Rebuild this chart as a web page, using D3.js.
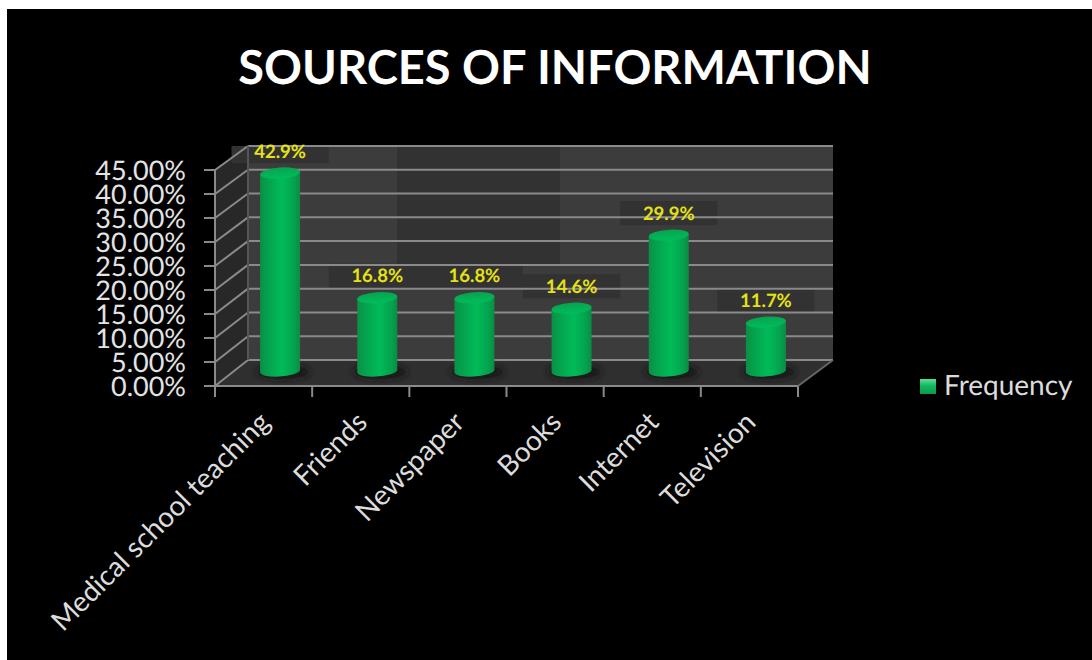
<!DOCTYPE html>
<html>
<head>
<meta charset="utf-8">
<script src="https://cdn.jsdelivr.net/npm/d3@7"></script>
<style>
html,body{margin:0;padding:0;background:#fff;overflow:hidden}
svg{display:block}
text{font-family:Lato,"Open Sans",sans-serif;text-rendering:geometricPrecision}
</style>
</head>
<body>
<svg id="chart" width="1092" height="660"></svg>
<script>
const categories = ["Medical school teaching","Friends","Newspaper","Books","Internet","Television"];
const frequency = [42.9,16.8,16.8,14.6,29.9,11.7];
const tickValues = [0,5,10,15,20,25,30,35,40,45];
const chartTitle = "SOURCES OF INFORMATION";
const seriesName = "Frequency";

const svg = d3.select("#chart");
const defs = svg.append("defs");

// Cylinder body shading, dark at the edges and bright through the middle
const bodyGrad = defs.append("linearGradient").attr("id","cyl");
[[0,"#0b8f45"],[0.2,"#05a24e"],[0.55,"#00bb58"],[0.85,"#05a24e"],[1,"#0a8c44"]]
  .forEach(([o,c]) => bodyGrad.append("stop").attr("offset",o).attr("stop-color",c));
const capGrad = defs.append("linearGradient").attr("id","cap").attr("x1",0).attr("x2",0).attr("y1",0).attr("y2",1);
[[0,"#07a34e"],[1,"#00bd5c"]].forEach(([o,c]) => capGrad.append("stop").attr("offset",o).attr("stop-color",c));
const keyGrad = defs.append("linearGradient").attr("id","key").attr("x1",0).attr("x2",0).attr("y1",0).attr("y2",1);
[[0,"#5fe09a"],[0.45,"#10b860"],[1,"#0a9a4c"]].forEach(([o,c]) => keyGrad.append("stop").attr("offset",o).attr("stop-color",c));
const shadowBlur = defs.append("filter").attr("id","soft").attr("x","-30%").attr("y","-60%").attr("width","160%").attr("height","220%");
shadowBlur.append("feGaussianBlur").attr("stdDeviation",3);

// Page backdrop
svg.append("rect").attr("x",7).attr("y",9).attr("width",1085).attr("height",651).attr("fill","#000");

// 3D box geometry: front plane and the depth offset of the back wall
const frontLeft = 215, frontRight = 798, depthX = 33;
const yFront = d3.scaleLinear().domain([0,45]).range([386,170]);
const yBack  = d3.scaleLinear().domain([0,45]).range([360,146]);
const yBar   = d3.scaleLinear().domain([0,45]).range([378,163]);
const xBand  = d3.scaleBand().domain(categories).range([frontLeft,frontRight]).padding(0);
const cx = c => xBand(c) + xBand.bandwidth()/2 + depthX/2;

const pts = a => a.map(p => p.join(",")).join(" ");
const backL = frontLeft + depthX, backR = frontRight + 35;

// Back wall, side wall and floor
svg.append("polygon").attr("fill","#3c3c3c")
  .attr("points",pts([[backL,yBack(45)],[backR,yBack(45)],[backR,yBack(0)],[backL,yBack(0)]]));
svg.append("polygon").attr("fill","#282828")
  .attr("points",pts([[frontLeft,yFront(45)],[backL,yBack(45)],[backL,yBack(0)],[frontLeft,yFront(0)]]));
svg.append("polygon").attr("fill","#2f2f2f")
  .attr("points",pts([[frontLeft,yFront(0)],[frontRight,yFront(0)],[backR,yBack(0)],[backL,yBack(0)]]));

// Darker plates behind the upper wall and the data labels
const plate = "#323232";
const labelOffset = 22, plateH = 24;
svg.append("rect").attr("x",397).attr("width",163).attr("y",yBack(45)).attr("height",yBack(20)-yBack(45)).attr("fill",plate);
svg.append("g").selectAll("rect").data(categories).join("rect")
  .attr("x",c=>cx(c)-xBand.bandwidth()/2)
  .attr("width",xBand.bandwidth())
  .attr("y",(c,i)=>Math.max(yBack(45),yBar(frequency[i])-labelOffset-plateH/2))
  .attr("height",(c,i)=>{
    const top = yBar(frequency[i])-labelOffset-plateH/2;
    return top + plateH - Math.max(yBack(45),top);
  })
  .attr("fill",plate);

// Gridlines: back wall, then side wall
const grid = svg.append("g").attr("stroke","#8a8a8a").attr("stroke-width",2).attr("fill","none");
grid.selectAll(".b").data(tickValues).join("line")
  .attr("x1",backL).attr("x2",backR).attr("y1",d=>yBack(d)).attr("y2",d=>yBack(d));
grid.selectAll(".s").data(tickValues).join("line")
  .attr("x1",frontLeft).attr("x2",backL).attr("y1",d=>yFront(d)).attr("y2",d=>yBack(d));
grid.append("line").attr("x1",frontLeft).attr("x2",frontLeft).attr("y1",yFront(45)).attr("y2",yFront(0));
grid.append("line").attr("x1",backL).attr("x2",backL).attr("y1",yBack(45)).attr("y2",yBack(0)).attr("stroke","#555");
grid.append("line").attr("x1",frontLeft).attr("x2",frontRight).attr("y1",yFront(0)).attr("y2",yFront(0));
grid.append("line").attr("x1",frontRight).attr("x2",backR).attr("y1",yFront(0)).attr("y2",yBack(0)).attr("stroke","#666");

// Axis ticks
const xTicks = d3.range(categories.length+1).map(i => frontLeft + i*xBand.bandwidth());
grid.selectAll(".xt").data(xTicks).join("line")
  .attr("x1",d=>d).attr("x2",d=>d).attr("y1",yFront(0)).attr("y2",397);
grid.selectAll(".yt").data(tickValues).join("line")
  .attr("x1",204).attr("x2",frontLeft).attr("y1",d=>yFront(d)).attr("y2",d=>yFront(d));

// Y tick labels
svg.append("g").selectAll("text").data(tickValues).join("text")
  .attr("x",186).attr("y",d=>yFront(d)+1).attr("dy","0.35em")
  .attr("text-anchor","end").attr("font-size",27).attr("fill","#e4e4e4")
  .text(d=>d3.format(".2f")(d)+"%");

// Cylinders
const radius = 20, capRy = 5.5, tilt = -4;
const baseY = 372;
const bars = svg.append("g").selectAll("g").data(categories).join("g");
bars.append("ellipse").attr("cx",c=>cx(c)+3).attr("cy",baseY).attr("rx",radius+7).attr("ry",7)
  .attr("fill","#181818").attr("filter","url(#soft)");
bars.append("path").attr("fill","url(#cyl)")
  .attr("d",(c,i) => {
    const x = cx(c), t = yBar(frequency[i]);
    return `M${x-radius},${t+1}L${x-radius},${baseY}A${radius},${capRy} ${tilt} 0 0 ${x+radius},${baseY-2}L${x+radius},${t-1}Z`;
  });
bars.append("ellipse").attr("cx",cx).attr("cy",(c,i)=>yBar(frequency[i]))
  .attr("rx",radius).attr("ry",capRy)
  .attr("transform",(c,i)=>`rotate(${tilt} ${cx(c)} ${yBar(frequency[i])})`)
  .attr("fill","url(#cap)");

// Value labels
svg.append("g").selectAll("text").data(categories).join("text")
  .attr("x",cx).attr("y",(c,i)=>yBar(frequency[i])-labelOffset)
  .attr("dy","0.35em").attr("text-anchor","middle")
  .attr("font-size",18.5).attr("font-weight",700).attr("fill","#e6e214")
  .text((c,i)=>frequency[i].toFixed(1)+"%");

// Category labels, slanted up to their tick slots
svg.append("g").selectAll("text").data(categories).join("text")
  .attr("transform",c=>`translate(${xBand(c)+xBand.bandwidth()/2+8},424) rotate(-45)`)
  .attr("text-anchor","end").attr("font-size",28).attr("fill","#dcdcdc")
  .text(c=>c);

// Legend
svg.append("rect").attr("x",920).attr("y",379).attr("width",16).attr("height",15).attr("fill","url(#key)");
svg.append("text").attr("x",944).attr("y",395).attr("font-size",28).attr("fill","#dcdcdc").text(seriesName);

// Title
svg.append("text").attr("x",555).attr("y",84).attr("text-anchor","middle")
  .attr("font-size",47).attr("font-weight",700).attr("fill","#fff").text(chartTitle);
</script>
</body>
</html>
